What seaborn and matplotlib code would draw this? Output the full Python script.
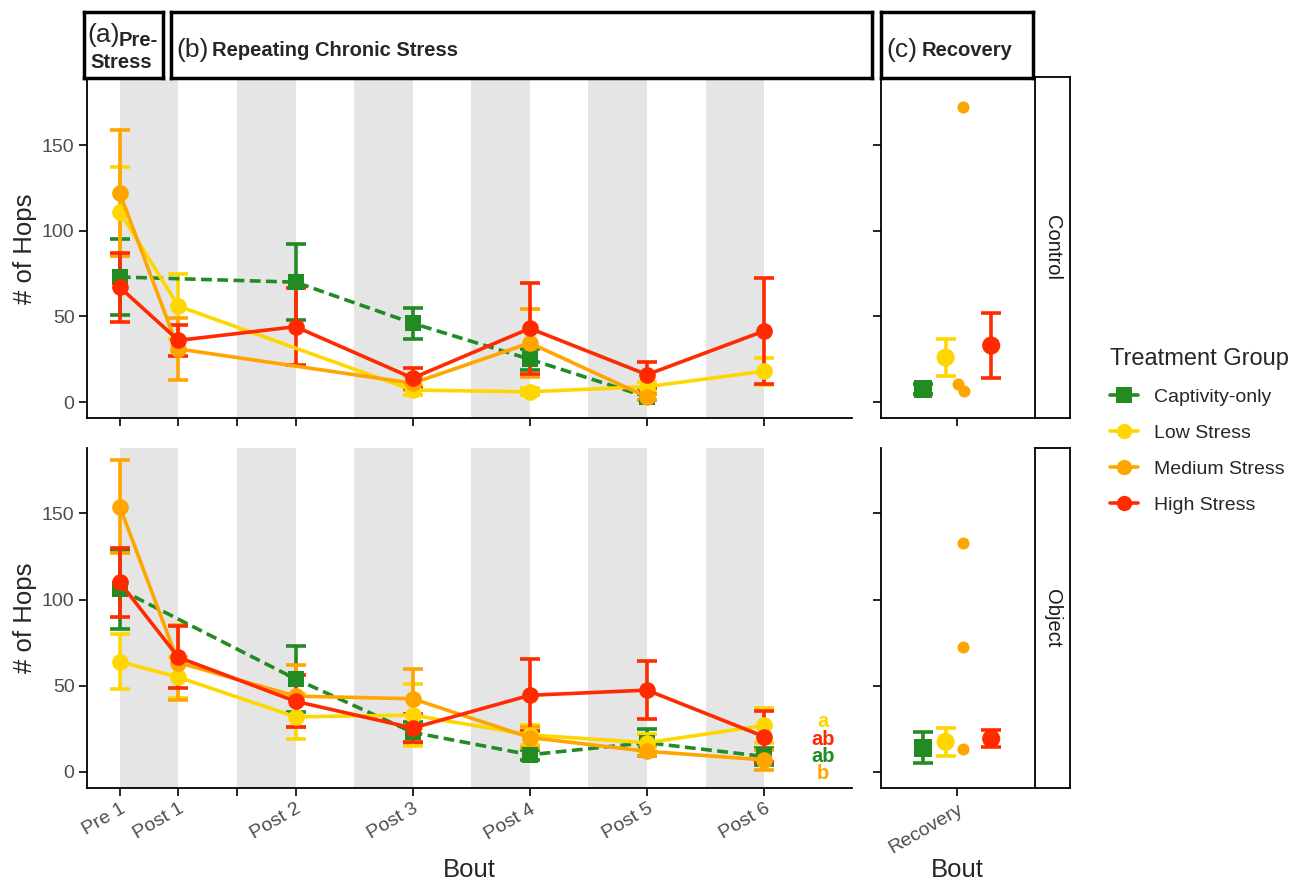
import numpy as np
import pandas as pd
import matplotlib
matplotlib.use("Agg")
import matplotlib.pyplot as plt
from matplotlib.lines import Line2D
import seaborn as sns

nan = np.nan

groups = ["Captivity-only", "Low Stress", "Medium Stress", "High Stress"]
bouts = ["Pre 1", "Post 1", "Post 2", "Post 3", "Post 4", "Post 5", "Post 6"]
bout_x = [0, 1, 3, 5, 7, 9, 11]
tick_x = [0, 1, 2, 3, 5, 7, 9, 11]
tick_labels = ["Pre 1", "Post 1", "", "Post 2", "Post 3", "Post 4", "Post 5", "Post 6"]

# Control, chronic stress bouts (mean, se)
cap_ctrl = [73, nan, 70, 46, 25, 3, nan]
cap_ctrl_se = [22, nan, 22, 9, 6, 2, nan]
low_ctrl = [111, 56, nan, 7, 6, 9, 18]
low_ctrl_se = [26, 19, nan, 3, 2, 3, 8]
med_ctrl = [122, 31, nan, 11, 34.5, 3, nan]
med_ctrl_se = [37, 18, nan, 4, 20, 2, nan]
high_ctrl = [67, 36, 44, 14, 43, 16, 41.5]
high_ctrl_se = [20, 9, 22.5, 6, 26.5, 7.5, 31]

# Object, chronic stress bouts
cap_obj = [106, nan, 54, 23, 10, 17, 9]
cap_obj_se = [23, nan, 19, 6, 3, 8, 5]
low_obj = [64, 55, 32, 33, 21.5, 17, 27]
low_obj_se = [16, 12, 13, 18, 6, 5, 10]
med_obj = [154, 63.5, 44, 42.5, 20, 12, 7]
med_obj_se = [27, 22, 18, 17, 6, 3, 6]
high_obj = [110, 66.5, 41, 25.5, 44.5, 47.5, 20.5]
high_obj_se = [20, 18, 15, 8, 21, 17, 15]

# Recovery (captivity, low, high as mean/se; medium as raw points)
rec_groups = ["Captivity-only", "Low Stress", "High Stress"]
rec_ctrl = [7.6, 26, 33]
rec_ctrl_se = [3, 11, 19]
rec_obj = [14, 17.5, 19.3]
rec_obj_se = [9, 8, 5]
med_rec_ctrl = [172.5, 10.5, 6.4]
med_rec_obj = [133, 72.5, 13.5]

letters = ["a", "ab", "ab", "b"]
letter_groups = ["Low Stress", "High Stress", "Captivity-only", "Medium Stress"]

palette = {"Captivity-only": "#228B22", "Low Stress": "#FFD700",
           "Medium Stress": "#FFA500", "High Stress": "#FF2A00"}
markers = {"Captivity-only": "s", "Low Stress": "o", "Medium Stress": "o", "High Stress": "o"}
dashes = {"Captivity-only": (3, 1.5), "Low Stress": "", "Medium Stress": "", "High Stress": ""}
dodge = {"Captivity-only": -0.27, "Low Stress": -0.09, "High Stress": 0.27}
med_jitter_ctrl = [0.05, 0.01, 0.055]
med_jitter_obj = [0.05, 0.05, 0.05]

series = {
    "Control": [(cap_ctrl, cap_ctrl_se), (low_ctrl, low_ctrl_se), (med_ctrl, med_ctrl_se), (high_ctrl, high_ctrl_se)],
    "Object": [(cap_obj, cap_obj_se), (low_obj, low_obj_se), (med_obj, med_obj_se), (high_obj, high_obj_se)],
}

rows = []
for cond, lst in series.items():
    for g, (m, s) in zip(groups, lst):
        for b, x, v, e in zip(bouts, bout_x, m, s):
            rows.append(dict(cond=cond, group=g, bout=b, x=x, hops=v, se=e))
df = pd.DataFrame(rows).dropna()

sns.set_theme(style="ticks")
plt.rcParams["font.family"] = ["Liberation Sans", "DejaVu Sans"]

W, H = 1292, 881
fig = plt.figure(figsize=(W / 100, H / 100), dpi=100)


def box(x0, y0, x1, y1):
    return [x0 / W, 1 - y1 / H, (x1 - x0) / W, (y1 - y0) / H]


ylim = (-9.3, 188)
lw = 2.6
tick_col = "#4D4D4D"

panel_rows = [("Control", 80, 418), ("Object", 448, 788)]
for i, (cond, ytop, ybot) in enumerate(panel_rows):
    ax = fig.add_axes(box(87, ytop, 852, ybot))
    axr = fig.add_axes(box(881, ytop, 1033, ybot))
    strip = fig.add_axes(box(1035, ytop - 3 if i == 0 else ytop, 1070, ybot))

    # gray stress bands
    for k in range(6):
        ax.axvspan(2 * k, 2 * k + 1, color="#E5E5E5", lw=0, zorder=0)

    sub = df[df.cond == cond]
    for g in groups:
        d = sub[sub.group == g]
        ax.errorbar(d.x, d.hops, yerr=d.se, fmt="none", ecolor=palette[g],
                    elinewidth=lw, capsize=7, capthick=lw, zorder=2)
    sns.lineplot(data=sub, x="x", y="hops", hue="group", style="group",
                 hue_order=groups, style_order=groups, palette=palette,
                 markers=markers, dashes=dashes, markersize=12, markeredgewidth=0,
                 linewidth=lw, errorbar=None, legend=False, ax=ax, zorder=3)

    ax.set_xlim(-0.56, 12.5)
    ax.set_ylim(*ylim)
    ax.set_yticks([0, 50, 100, 150])
    ax.set_xticks(tick_x)
    ax.set_ylabel("")
    ax.set_xlabel("")
    sns.despine(ax=ax)
    if i == 1:
        ax.set_xticklabels(tick_labels, rotation=30, ha="right", rotation_mode="anchor")
        for lt, lg, ly in zip(letters, letter_groups, [29, 19, 9, -1]):
            ax.text(12, ly, lt, color=palette[lg], fontsize=14.5, fontweight="bold",
                    ha="center", va="center")
    else:
        ax.set_xticklabels([])

    # recovery panel
    rec_m = rec_ctrl if cond == "Control" else rec_obj
    rec_s = rec_ctrl_se if cond == "Control" else rec_obj_se
    med_pts = med_rec_ctrl if cond == "Control" else med_rec_obj
    jit = med_jitter_ctrl if cond == "Control" else med_jitter_obj
    rdf = pd.DataFrame(dict(group=rec_groups, hops=rec_m, se=rec_s))
    rdf["x"] = rdf.group.map(dodge)
    for _, r in rdf.iterrows():
        axr.errorbar(r.x, r.hops, yerr=r.se, fmt="none", ecolor=palette[r.group],
                     elinewidth=lw, capsize=7, capthick=lw, zorder=2)
    sns.scatterplot(data=rdf, x="x", y="hops", hue="group", style="group",
                    palette=palette, markers=markers, s=170, linewidth=0,
                    legend=False, ax=axr, zorder=3)
    sns.scatterplot(x=jit, y=med_pts, color=palette["Medium Stress"], s=75,
                    linewidth=0, ax=axr, zorder=3)
    axr.set_xlim(-0.6, 0.6)
    axr.set_ylim(*ylim)
    axr.set_yticks([0, 50, 100, 150])
    axr.set_yticklabels([])
    axr.set_xticks([0])
    axr.set_ylabel("")
    axr.set_xlabel("")
    sns.despine(ax=axr)
    if i == 1:
        axr.set_xticklabels(["Recovery"], rotation=30, ha="right", rotation_mode="anchor")
    else:
        axr.set_xticklabels([])

    for a in (ax, axr):
        a.tick_params(axis="both", colors="black", labelcolor=tick_col, labelsize=14,
                      length=6, width=1.2, pad=3)
        for sp in ("left", "bottom"):
            a.spines[sp].set_linewidth(1.3)
            a.spines[sp].set_color("black")

    strip.set_xticks([])
    strip.set_yticks([])
    for sp in strip.spines.values():
        sp.set_linewidth(1.3)
        sp.set_color("black")
    strip.text(0.5, 0.5, cond, rotation=-90, ha="center", va="center",
               fontsize=14.5, color="#1A1A1A", transform=strip.transAxes)

    fig.text(25 / W, 1 - (ytop + ybot) / 2 / H, "# of Hops", rotation=90,
             ha="center", va="center", fontsize=18.5)

fig.text(469 / W, 1 - 870 / H, "Bout", ha="center", va="center", fontsize=18.5)
fig.text(957 / W, 1 - 870 / H, "Bout", ha="center", va="center", fontsize=18.5)

# period title boxes
titles = [((84, 12, 163, 78), "(a)", "Pre-\nStress"),
          ((171, 12, 872, 78), "(b)", "Repeating Chronic Stress"),
          ((881, 12, 1033, 78), "(c)", "Recovery")]
for (x0, y0, x1, y1), tag, name in titles:
    tb = fig.add_axes(box(x0, y0, x1, y1))
    tb.set_xticks([])
    tb.set_yticks([])
    for sp in tb.spines.values():
        sp.set_linewidth(2.5)
        sp.set_color("black")
    if tag == "(a)":
        fig.text(87 / W, 1 - 35 / H, tag, fontsize=19, ha="left", va="center")
        top, bottom = name.split("\n")
        fig.text(119 / W, 1 - 40 / H, top, fontsize=14.5, fontweight="bold", ha="left", va="center")
        fig.text(90 / W, 1 - 62 / H, bottom, fontsize=14.5, fontweight="bold", ha="left", va="center")
    else:
        fig.text((x0 + 5) / W, 1 - 50 / H, tag, fontsize=19, ha="left", va="center")
        fig.text((x0 + 41) / W, 1 - 50 / H, name, fontsize=14.5, fontweight="bold",
                 ha="left", va="center")

handles = [Line2D([0], [0], color=palette[g], lw=lw, marker=markers[g], markersize=11,
                  markeredgewidth=0) for g in groups]
leg = fig.legend(handles, groups, title="Treatment Group", loc="upper left",
                 bbox_to_anchor=(1092 / W, 1 - 330 / H), frameon=False, fontsize=14,
                 title_fontsize=17, handlelength=1.45, handletextpad=0.85,
                 labelspacing=0.95, alignment="left")

fig.savefig("out.png", dpi=100)
